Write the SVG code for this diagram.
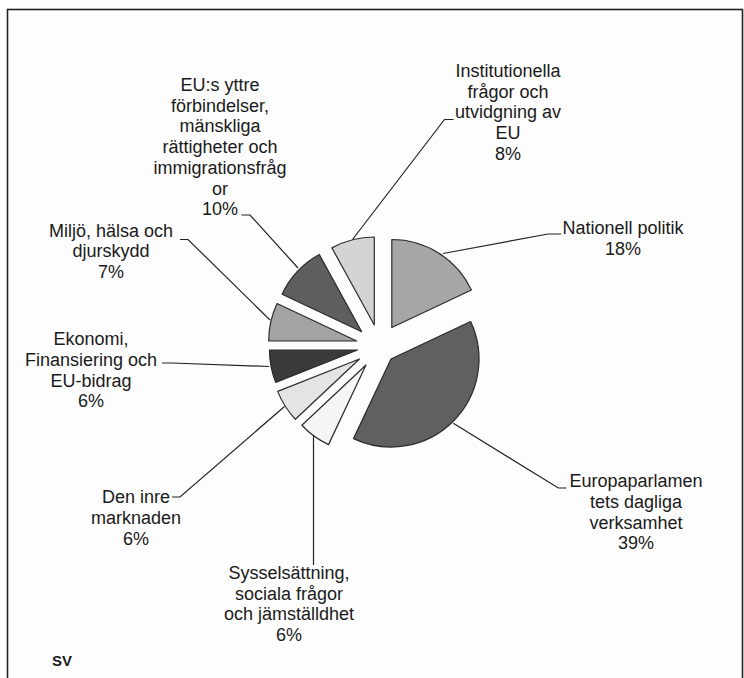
<svg xmlns="http://www.w3.org/2000/svg" width="744" height="678" viewBox="0 0 744 678">
<style>
.sl{stroke:#2b2b2b;stroke-width:1.2;stroke-linejoin:round}
.ld{fill:none;stroke:#222;stroke-width:1.2}
.t{font-family:"Liberation Sans",Arial,sans-serif;font-size:18px;fill:#1a1a1a;text-anchor:middle}
</style>
<rect x="0" y="0" width="744" height="678" fill="#ffffff"/>
<rect x="7.5" y="9.5" width="735" height="680" fill="#fdfdfd" stroke="#222" stroke-width="1.6"/>
<g id="connectors">
<polyline class="ld" points="352.5,239.5 444.5,119.5 453.5,119.5"/>
<polyline class="ld" points="443,253.5 548,234 561,234"/>
<polyline class="ld" points="453.3,423.3 558.3,488 566.5,488"/>
<polyline class="ld" points="313.5,436 313.5,565"/>
<polyline class="ld" points="284.5,406.5 180,497 172,497"/>
<polyline class="ld" points="269,366.5 172,363 162,363"/>
<polyline class="ld" points="270,320 188,239.5 180,239.5"/>
<polyline class="ld" points="298,268 250,215 241.5,215"/>
</g>
<g id="nationell">
<path class="sl" fill="#a6a6a6" d="M391.8,327.5 L391.8,239.5 A88,88 0 0 1 471.42,290.03 Z"/>
<text class="t" x="623" y="234.3">Nationell politik</text>
<text class="t" x="623" y="255">18%</text>
</g>
<g id="europaparlamentet">
<path class="sl" fill="#606060" d="M391,359 L470.62,321.53 A88,88 0 0 1 353.53,438.62 Z"/>
<text class="t" x="636" y="487.3">Europaparlamen</text>
<text class="t" x="636" y="508">tets dagliga</text>
<text class="t" x="636" y="528.6">verksamhet</text>
<text class="t" x="636" y="549.2">39%</text>
</g>
<g id="sysselsattning">
<path class="sl" fill="#f5f5f5" d="M366,365 L328.53,444.62 A88,88 0 0 1 301.85,425.24 Z"/>
<text class="t" x="289" y="579">Sysselsättning,</text>
<text class="t" x="289" y="599.7">sociala frågor</text>
<text class="t" x="289" y="620.4">och jämställdhet</text>
<text class="t" x="289" y="641">6%</text>
</g>
<g id="inre-marknaden">
<path class="sl" fill="#e4e4e4" d="M359.5,359 L295.35,419.24 A88,88 0 0 1 277.68,391.39 Z"/>
<text class="t" x="136" y="503">Den inre</text>
<text class="t" x="136" y="524">marknaden</text>
<text class="t" x="136" y="545">6%</text>
</g>
<g id="ekonomi">
<path class="sl" fill="#3a3a3a" d="M357.5,350 L275.68,382.39 A88,88 0 0 1 269.5,350 Z"/>
<text class="t" x="91" y="345">Ekonomi,</text>
<text class="t" x="91" y="366">Finansiering och</text>
<text class="t" x="91" y="386.5">EU-bidrag</text>
<text class="t" x="91" y="406.5">6%</text>
</g>
<g id="miljo">
<path class="sl" fill="#a3a3a3" d="M356.7,341 L268.7,341 A88,88 0 0 1 277.08,303.53 Z"/>
<text class="t" x="111" y="236.5">Miljö, hälsa och</text>
<text class="t" x="111" y="257">djurskydd</text>
<text class="t" x="111" y="278">7%</text>
</g>
<g id="eu-yttre">
<path class="sl" fill="#5e5e5e" d="M361.7,331.7 L282.08,294.23 A88,88 0 0 1 319.3,254.59 Z"/>
<text class="t" x="220" y="91">EU:s yttre</text>
<text class="t" x="220" y="111.7">förbindelser,</text>
<text class="t" x="220" y="132.4">mänskliga</text>
<text class="t" x="220" y="153.1">rättigheter och</text>
<text class="t" x="220" y="173.8">immigrationsfråg</text>
<text class="t" x="220" y="194.5">or</text>
<text class="t" x="220" y="215.2">10%</text>
</g>
<g id="institutionella">
<path class="sl" fill="#d4d4d4" d="M374.3,325 L331.9,247.89 A88,88 0 0 1 374.3,237 Z"/>
<text class="t" x="508" y="76.8">Institutionella</text>
<text class="t" x="508" y="97.6">frågor och</text>
<text class="t" x="508" y="118.4">utvidgning av</text>
<text class="t" x="508" y="139.2">EU</text>
<text class="t" x="508" y="160">8%</text>
</g>
<text x="52" y="666" font-family="Liberation Sans,Arial,sans-serif" font-size="15" font-weight="bold" fill="#1a1a1a">SV</text>
</svg>
